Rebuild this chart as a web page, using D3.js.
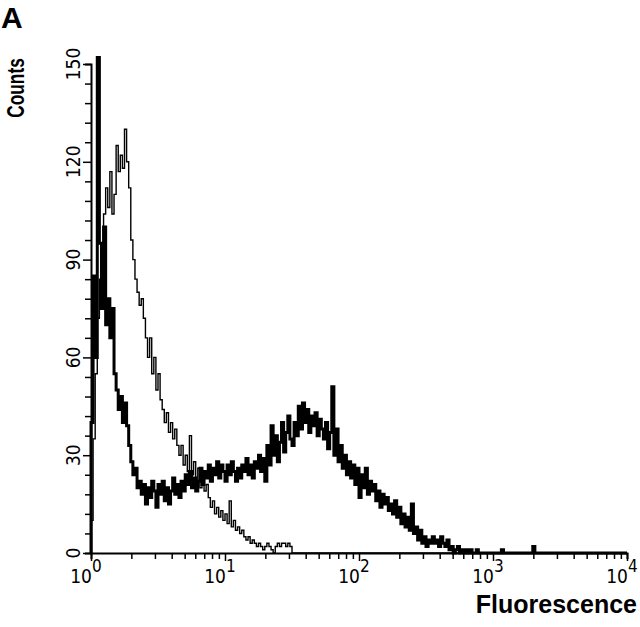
<!DOCTYPE html>
<html>
<head>
<meta charset="utf-8">
<script src="https://cdn.jsdelivr.net/npm/d3@7/dist/d3.min.js"></script>
<style>
  body { margin: 0; background: #fff; }
  svg { display: block; font-family: "Liberation Sans", Arial, sans-serif; }
  .num { font-family: "Liberation Sans Narrow", "DejaVu Sans Condensed", "Liberation Sans", sans-serif; }
</style>
</head>
<body>
<div id="container"></div>
<script>
/* CONSTANTS */
const width = 640,
  height = 627,
  margin = {top: 64, right: 13, bottom: 74, left: 91};

// histogram resolution: 64 channels per decade
const channelsPerDecade = 64;

const countTicks = [0, 30, 60, 90, 120, 150];
const decades = [0, 1, 2, 3, 4];

// thin line (control), counts per channel starting at 10^0
const controlCounts = [
  10, 35, 55, 72, 84, 92, 104, 112, 106, 117,
  104, 110, 125, 117, 122, 118, 130, 120, 112, 96,
  90, 84, 80, 76, 78, 72, 66, 60, 66, 55,
  60, 50, 55, 47, 44, 40, 43, 37, 40, 35,
  38, 33, 30, 33, 27, 30, 25, 36, 24, 28,
  22, 26, 20, 24, 19, 21, 17, 14, 16, 12,
  14, 11, 13, 10, 12, 9, 16, 8, 10, 7,
  8, 6, 7, 5, 4, 5, 3, 4, 3, 2,
  3, 2, 1, 2, 3, 2, 1, 0, 2, 3,
  2, 3, 3, 2, 3, 2, 0
];

// thick line (stained), counts per channel starting at 10^0
const stainedCounts = [
  40, 85, 60, 152, 95, 75, 100, 70, 78, 66,
  75, 55, 50, 44, 48, 40, 46, 39, 33, 28,
  24, 26, 20, 22, 18, 21, 15, 20, 17, 22,
  19, 14, 21, 18, 22, 16, 20, 15, 19, 23,
  18, 21, 17, 22, 19, 24, 21, 25, 20, 23,
  19, 22, 26, 21, 25, 23, 27, 22, 26, 24,
  28, 23, 27, 25, 22, 27, 24, 28, 25, 22,
  26, 23, 27, 25, 29, 24, 27, 23, 28, 26,
  30, 25, 29, 22, 33, 27, 39, 30, 36, 28,
  34, 40, 31, 37, 42, 35, 33, 40, 36, 45,
  38, 46, 40, 44, 37, 42, 39, 43, 36, 41,
  38, 35, 40, 32, 37, 51, 30, 38, 28, 33,
  26, 30, 24, 28, 23, 27, 21, 26, 17, 24,
  20, 26, 18, 22, 19, 21, 16, 19, 14, 18,
  15, 17, 13, 15, 12, 16, 11, 14, 9, 12,
  8, 11, 7, 15, 6, 8, 4, 7, 3, 5,
  2, 4, 3, 5, 3, 4, 2, 5, 3, 2,
  4, 1, 2, 0, 1, 2, 0, 1, 0, 1,
  0, 1, 0, 0, 1, 0, 0, 0, 0, 0,
  0, 0, 0, 0, 0, 0, 1, 0, 0, 0,
  0, 0, 0, 0, 0, 0, 0, 0, 0, 0,
  0, 2, 0
];

/* SCALES */
const xScale = d3.scaleLog()
  .domain([1, 1e4])
  .range([margin.left, width - margin.right]);

const yScale = d3.scaleLinear()
  .domain([0, 150])
  .range([height - margin.bottom, margin.top]);

const svg = d3.select("#container")
  .append("svg")
  .attr("width", width)
  .attr("height", height);

// channel number -> fluorescence value
const toPoints = counts => {
  const pts = counts.map((c, i) => [Math.pow(10, i / channelsPerDecade), c]);
  pts.unshift([1, 0]);
  pts.push([1e4, 0]);
  return pts;
};

const line = d3.line()
  .x(d => xScale(d[0]))
  .y(d => yScale(d[1]))
  .curve(d3.curveStepAfter);

/* AXES */
const yAxis = d3.axisLeft(yScale)
  .tickValues(d3.range(0, 151, 6))
  .tickSize(6)
  .tickFormat("");

svg.append("g")
  .attr("transform", `translate(${margin.left},0)`)
  .call(yAxis)
  .call(g => g.select(".domain").attr("stroke-width", 2))
  .call(g => g.selectAll(".tick line")
    .attr("stroke-width", 1.5)
    .attr("x2", d => countTicks.includes(d) ? -8 : -6));

// minor ticks 1..9 in every decade
const minorX = [];
decades.slice(0, -1).forEach(d => {
  for (let k = 1; k < 10; k++) minorX.push(k * Math.pow(10, d));
});
minorX.push(1e4);

const isDecade = v => Math.abs(Math.log10(v) - Math.round(Math.log10(v))) < 1e-9;

const xAxis = d3.axisBottom(xScale)
  .tickValues(minorX)
  .tickSize(6)
  .tickFormat("");

svg.append("g")
  .attr("transform", `translate(0,${height - margin.bottom})`)
  .call(xAxis)
  .call(g => g.select(".domain").attr("stroke-width", 2))
  .call(g => g.selectAll(".tick line")
    .attr("stroke-width", 1.5)
    .attr("y2", d => isDecade(d) ? 8 : 6));

// y tick labels, rotated
svg.append("g").selectAll("text")
  .data(countTicks)
  .join("text")
  .attr("class", "num")
  .attr("transform", d => `translate(80,${yScale(d)}) rotate(-90)`)
  .attr("text-anchor", "middle")
  .attr("font-size", 19)
  .text(d => d);

// x tick labels: 10 with superscript exponent
const xl = svg.append("g").selectAll("g")
  .data(decades)
  .join("g")
  .attr("transform", d => `translate(${xScale(Math.pow(10, d))},0)`);

xl.append("text")
  .attr("class", "num")
  .attr("x", 1)
  .attr("y", 583)
  .attr("text-anchor", "end")
  .attr("font-size", 19)
  .text("10");

xl.append("text")
  .attr("class", "num")
  .attr("x", 1)
  .attr("y", 572)
  .attr("font-size", 17)
  .text(d => d);

/* HISTOGRAMS */
svg.append("path")
  .datum(toPoints(controlCounts))
  .attr("fill", "none")
  .attr("stroke", "#000")
  .attr("stroke-width", 1.4)
  .attr("d", line);

svg.append("path")
  .datum(toPoints(stainedCounts))
  .attr("fill", "none")
  .attr("stroke", "#000")
  .attr("stroke-width", 3)
  .attr("d", line);

/* TITLES */
svg.append("text")
  .attr("x", 1)
  .attr("y", 28)
  .attr("font-size", 30)
  .attr("font-weight", "bold")
  .text("A");

// condensed bold look of the original label
svg.append("text")
  .attr("transform", "translate(24,88) rotate(-90) scale(0.72,1)")
  .attr("text-anchor", "middle")
  .attr("font-size", 24)
  .attr("font-weight", "bold")
  .text("Counts");

svg.append("text")
  .attr("x", 637)
  .attr("y", 613)
  .attr("text-anchor", "end")
  .attr("font-size", 25)
  .attr("font-weight", "bold")
  .text("Fluorescence");
</script>
</body>
</html>
